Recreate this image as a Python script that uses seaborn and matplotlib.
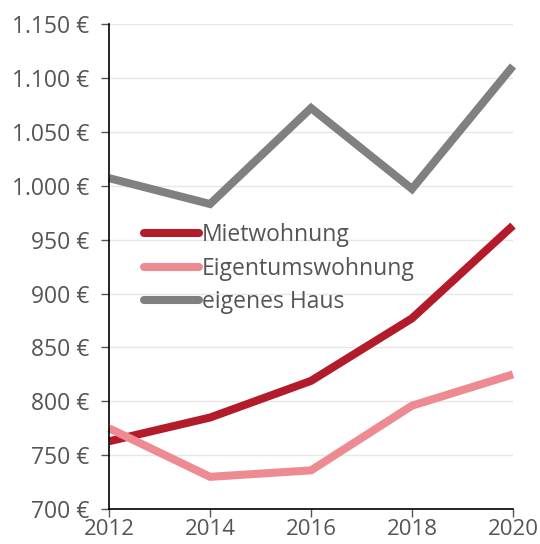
import pandas as pd
import matplotlib.pyplot as plt
import seaborn as sns

jahre = [2012, 2014, 2016, 2018, 2020]
mietwohnung = [763, 785, 819, 877, 963]
eigentumswohnung = [775, 730, 736, 796, 825]
eigenes_haus = [1007, 983, 1072, 997, 1111]
y_ticks = [700, 750, 800, 850, 900, 950, 1000, 1050, 1100, 1150]

df = pd.DataFrame({
    'Jahr': jahre * 3,
    'Wert': mietwohnung + eigentumswohnung + eigenes_haus,
    'Art': ['Mietwohnung'] * 5 + ['Eigentumswohnung'] * 5 + ['eigenes Haus'] * 5,
})

farben = {'Mietwohnung': '#b31b2a', 'Eigentumswohnung': '#ee8a91', 'eigenes Haus': '#808080'}

sns.set_style('white')
plt.rcParams['font.family'] = ['Open Sans', 'DejaVu Sans']

fig = plt.figure(figsize=(5.4, 5.44), dpi=100)
ax = fig.add_axes([0.202, 0.064, 0.748, 0.892])

sns.lineplot(data=df, x='Jahr', y='Wert', hue='Art', palette=farben, linewidth=5.8,
             ax=ax, legend=True)
for line in ax.lines:
    line.set_clip_on(False)
    line.set_solid_capstyle('butt')
    line.set_solid_joinstyle('miter')

ax.set_xlim(2012, 2020)
ax.set_ylim(700, 1150)
ax.set_xticks(jahre)
ax.set_yticks(y_ticks)
ax.set_yticklabels([f'{v:,}'.replace(',', '.') + ' €' for v in y_ticks])
ax.set_xlabel('')
ax.set_ylabel('')
ax.grid(axis='y', color='#e6e6e6', linewidth=1)
ax.set_axisbelow(True)
sns.despine(ax=ax)
for s in ['left', 'bottom']:
    ax.spines[s].set_color('black')
    ax.spines[s].set_linewidth(1.2)
ax.tick_params(axis='both', colors='#555555', labelsize=16.5, length=5.5, width=1,
               direction='out', left=True, bottom=True)
ax.tick_params(axis='y', pad=9)
ax.tick_params(axis='x', pad=1.5, labelsize=16)

leg = ax.legend(loc='upper left', bbox_to_anchor=(0.035, 0.632), frameon=False,
                fontsize=16.5, handlelength=2.4, handletextpad=0.12, labelspacing=0.42,
                labelcolor='#555555')
for h in leg.get_lines():
    h.set_solid_capstyle('round')
    h.set_linewidth(5.8)

fig.savefig('out.png', dpi=100)
